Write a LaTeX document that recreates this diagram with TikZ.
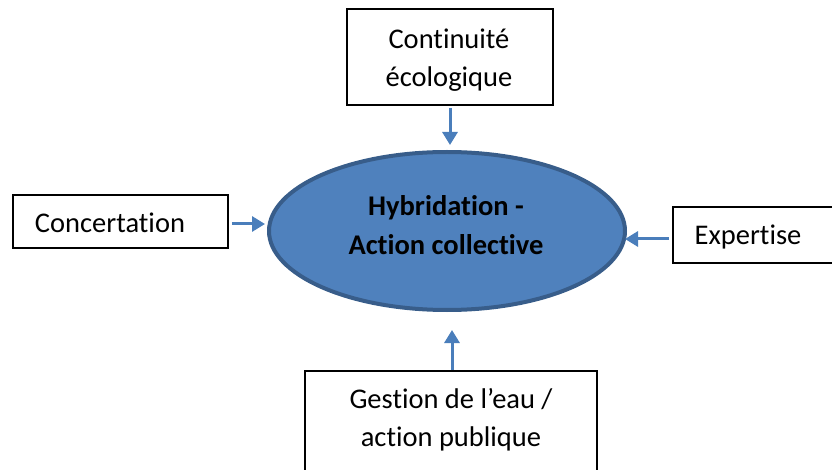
\documentclass[tikz,border=0pt]{standalone}
\usepackage{fontspec}
\setmainfont{Carlito}[Ligatures=CommonOff]
\usetikzlibrary{shapes.geometric,arrows.meta}
\definecolor{ellfill}{HTML}{4F81BD}
\definecolor{elldraw}{HTML}{385D8A}
\definecolor{arrblue}{HTML}{4A7EBB}
\tikzset{
  box/.style={draw=black, line width=1.6pt, fill=white, inner sep=0pt},
  lbl/.style={font=\fontsize{28.5}{38}\selectfont, align=center, inner sep=0pt},
  arr/.style={draw=arrblue, line width=3pt, -{Triangle[length=13pt,width=15pt]}},
}
\begin{document}
\begin{tikzpicture}[x=1pt,y=-1pt]
\useasboundingbox (0,0) rectangle (832,470);
% boxes
\node[box, minimum width=206pt, minimum height=96pt] (top) at (450,57) {};
\node[lbl] (toplbl) at (449,60) {Continuité\\écologique};
\node[box, minimum width=215pt, minimum height=53pt] (conc) at (120.5,221.5) {};
\node[lbl, anchor=base] (conclbl) at (110,233) {Concertation};
\node[box, minimum width=170pt, minimum height=56pt] (expe) at (758,235) {};
\node[lbl, anchor=base] (expelbl) at (748,245) {Expertise};
\node[box, minimum width=292pt, minimum height=120pt] (gest) at (451,431) {};
\node[lbl] (gestlbl) at (451,420) {Gestion de l’eau /\\action publique};
% central ellipse
\node[ellipse, draw=elldraw, line width=4pt, fill=ellfill,
      minimum width=356pt, minimum height=158pt, inner sep=0pt] (ell) at (447,231) {};
\node[lbl, font=\fontsize{28.5}{39.5}\selectfont\bfseries] (elllbl) at (446,225) {Hybridation -\\Action collective};
% arrows
\draw[arr, shorten <=2pt, shorten >=5pt] (top.south) -- (top.south |- ell.north);
\draw[arr, shorten <=3pt, shorten >=2pt] ([yshift=-2.5pt]conc.east) -- ([yshift=-2.5pt]conc.east -| ell.west);
\draw[arr, shorten <=3pt, shorten >=-2pt] ([yshift=-4pt]expe.west) -- ([yshift=-4pt]expe.west -| ell.east);
\draw[arr, shorten >=18pt] ([xshift=1pt]gest.north) -- ([xshift=1pt]gest.north |- ell.south);
\end{tikzpicture}
\end{document}
